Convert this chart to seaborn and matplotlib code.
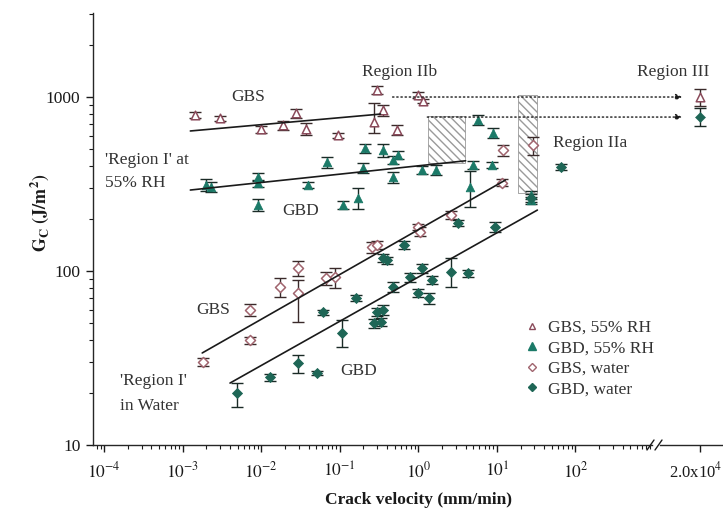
import numpy as np
import pandas as pd
import matplotlib
matplotlib.use("Agg")
import matplotlib.pyplot as plt
import seaborn as sns
from matplotlib.lines import Line2D
from matplotlib.patches import Rectangle
from matplotlib.ticker import LogLocator, NullFormatter, FixedLocator, FixedFormatter

# ---------------- data ----------------
# GBS, 55% RH
gbs_rh_v = [1.45e-3, 3.0e-3, 9.8e-3, 0.019, 0.028, 0.037, 0.095, 0.27, 0.30, 0.35, 0.54, 1.0, 1.15]
gbs_rh_g = [790, 757, 655, 690, 809, 655, 604, 718, 1097, 842, 646, 1027, 950]
gbs_rh_lo = [30, 25, 30, 40, 50, 50, 20, 100, 60, 60, 40, 40, 30]
gbs_rh_hi = [30, 25, 30, 40, 50, 50, 20, 200, 60, 60, 40, 40, 30]

# GBD, 55% RH
gbd_rh_v = [2.0e-3, 2.3e-3, 9.1e-3, 9.1e-3, 9.1e-3, 0.039, 0.069, 0.11, 0.17, 0.195, 0.21, 0.36,
            0.47, 0.48, 0.55, 1.1, 1.7, 4.6, 4.9, 5.8, 8.7, 9.0, 27, 27]
gbd_rh_g = [312, 305, 347, 320, 240, 312, 423, 240, 263, 390, 509, 495,
            347, 435, 464, 381, 380, 304, 406, 738, 406, 621, 273, 256]
gbd_rh_lo = [25, 20, 20, 15, 20, 12, 30, 12, 35, 25, 30, 40, 25, 25, 25, 20, 25, 70, 20, 50, 15, 40, 15, 12]
gbd_rh_hi = [25, 20, 20, 15, 20, 12, 30, 12, 35, 25, 30, 40, 25, 25, 25, 20, 25, 70, 20, 50, 15, 40, 15, 12]

# GBS, water
gbs_w_v = [1.8e-3, 7.2e-3, 7.2e-3, 0.0175, 0.029, 0.029, 0.066, 0.087, 0.26, 0.30, 1.0, 1.06, 2.6, 11.7, 12.0, 29.0]
gbs_w_g = [30, 40, 60, 81, 104, 75, 91, 92, 137, 141, 179, 168, 210, 321, 495, 530]
gbs_w_lo = [1.5, 2, 5, 10, 10, 24, 8, 12, 10, 8, 8, 10, 10, 15, 35, 65]
gbs_w_hi = [1.5, 2, 5, 10, 10, 14, 8, 12, 10, 8, 8, 10, 10, 15, 35, 60]

# GBD, water
gbd_w_v = [4.9e-3, 0.013, 0.029, 0.051, 0.062, 0.108, 0.16, 0.27, 0.30, 0.33, 0.35, 0.35, 0.40,
           0.48, 0.65, 0.79, 1.0, 1.1, 1.35, 1.5, 2.6, 3.2, 4.3, 9.6, 27, 65]
gbd_w_g = [19.9, 24.5, 29.5, 26, 58, 44, 70, 50, 58, 51, 60, 119, 115,
           81, 141, 92, 75, 104, 70, 89, 99, 189, 97, 179, 263, 396]
gbd_w_lo = [3.3, 1.2, 3.5, 0.8, 2, 7.5, 3, 3, 3, 3, 4, 6, 6, 5, 8, 5, 4, 6, 5, 5, 18, 8, 5, 12, 15, 15]
gbd_w_hi = [2.8, 1.2, 3.5, 0.8, 2, 8, 3, 3, 3, 3, 4, 6, 6, 5, 8, 5, 4, 6, 5, 5, 20, 8, 5, 12, 15, 15]

# Region III (plotted beyond the axis break)
reg3_v = 2.0e4
reg3_gbs_rh_g, reg3_gbs_rh_err = 1000, 110
reg3_gbd_w_g, reg3_gbd_w_err = 770, 90

# fitted lines (end points)
fit_gbs_rh_v, fit_gbs_rh_g = [1.25e-3, 0.33], [638, 798]
fit_gbd_rh_v, fit_gbd_rh_g = [1.25e-3, 4.0], [292, 430]
fit_gbs_w_v, fit_gbs_w_g = [1.77e-3, 12.8], [33.8, 333]
fit_gbd_w_v, fit_gbd_w_g = [4.0e-3, 32.8], [22.7, 224]

# hatched regions (v0, v1, g0, g1)
hatch_boxes = [(1.34, 3.97, 418, 778), (18.8, 32.8, 281, 1027)]
# dotted arrows (start v, level G)
arrow_starts = [(0.47, 1000), (1.30, 767)]

x_ticks = [1e-4, 1e-3, 1e-2, 1e-1, 1e0, 1e1, 1e2]
x_ticklabels = [r"$10^{-4}$", r"$10^{-3}$", r"$10^{-2}$", r"$10^{-1}$", r"$10^{0}$", r"$10^{1}$", r"$10^{2}$"]
y_ticks = [10, 100, 1000]
y_ticklabels = ["10", "100", "1000"]

legend_labels = ["GBS, 55% RH", "GBD, 55% RH", "GBS, water", "GBD, water"]

# ---------------- style ----------------
sns.set_theme(style="ticks")
plt.rcParams['font.family'] = ['Liberation Serif', 'DejaVu Serif']
plt.rcParams['mathtext.fontset'] = 'stix'
plt.rcParams['axes.linewidth'] = 1.0

W, H = 723, 520
def fx(x): return x / W
def fy(y): return 1 - y / H

fig = plt.figure(figsize=(W / 100, H / 100), dpi=100)
ax = fig.add_axes([fx(93), fy(445), (652 - 93) / W, (445 - 13) / H])
ax2 = fig.add_axes([fx(660), fy(445), (723 - 660) / W, (445 - 13) / H], sharey=ax)

c_gbs_rh = "#8a4a5a"
c_gbd_rh = "#1b7a68"
c_gbs_w = "#a0646e"
c_gbd_w = "#1e6656"
bar_gbs = "#3a2a2a"
bar_gbd = "#1a2a26"

series = [
    (gbs_rh_v, gbs_rh_g, gbs_rh_lo, gbs_rh_hi, "^", c_gbs_rh, False, bar_gbs),
    (gbd_rh_v, gbd_rh_g, gbd_rh_lo, gbd_rh_hi, "^", c_gbd_rh, True, bar_gbd),
    (gbs_w_v, gbs_w_g, gbs_w_lo, gbs_w_hi, "D", c_gbs_w, False, bar_gbs),
    (gbd_w_v, gbd_w_g, gbd_w_lo, gbd_w_hi, "D", c_gbd_w, True, bar_gbd),
]

for v, g, lo, hi, mk, col, filled, bc in series:
    df = pd.DataFrame({"v": v, "G": g})
    ax.errorbar(v, g, yerr=[lo, hi], fmt="none", ecolor=bc, elinewidth=1.0,
                capsize=4.5, capthick=1.0, zorder=2)
    s = 38 if mk == "^" else 26
    if filled:
        sns.scatterplot(data=df, x="v", y="G", ax=ax, marker=mk, color=col,
                        edgecolor=col, s=s, linewidth=0.6, zorder=3, legend=False)
    else:
        sns.scatterplot(data=df, x="v", y="G", ax=ax, marker=mk, facecolor="white",
                        edgecolor=col, s=s, linewidth=1.1, zorder=3, legend=False)

# fit lines
for fv, fg in [(fit_gbs_rh_v, fit_gbs_rh_g), (fit_gbd_rh_v, fit_gbd_rh_g),
               (fit_gbs_w_v, fit_gbs_w_g), (fit_gbd_w_v, fit_gbd_w_g)]:
    sns.lineplot(x=fv, y=fg, ax=ax, color="#1a1a1a", lw=1.2, zorder=4)

# hatched boxes
for v0, v1, g0, g1 in hatch_boxes:
    r = Rectangle((v0, g0), v1 - v0, g1 - g0, facecolor="white", edgecolor="#9a9a9a",
                  hatch="\\\\\\\\", lw=0.6, zorder=1)
    ax.add_patch(r)

ax.set_xscale("log")
ax.set_yscale("log")
ax.set_xlim(7.2e-5, 9.45e2)
ax.set_ylim(10, 3040)

# region III
ax2.set_xscale("log")
ax2.set_xlim(10 ** 3.79, 10 ** 4.594)
ax2.errorbar([reg3_v], [reg3_gbs_rh_g], yerr=[reg3_gbs_rh_err], fmt="none", ecolor=bar_gbs,
             elinewidth=1.0, capsize=4.5, capthick=1.0)
ax2.errorbar([reg3_v], [reg3_gbd_w_g], yerr=[reg3_gbd_w_err], fmt="none", ecolor=bar_gbd,
             elinewidth=1.0, capsize=4.5, capthick=1.0)
sns.scatterplot(x=[reg3_v], y=[reg3_gbs_rh_g], ax=ax2, marker="^", facecolor="white",
                edgecolor=c_gbs_rh, s=38, linewidth=1.1, zorder=3, legend=False)
sns.scatterplot(x=[reg3_v], y=[reg3_gbd_w_g], ax=ax2, marker="D", color=c_gbd_w,
                edgecolor=c_gbd_w, s=26, zorder=3, legend=False)

# dotted arrows
for v0, g in arrow_starts:
    ax2.annotate("", xy=(1.18e4, g), xycoords="data", xytext=(v0, g), textcoords=ax.transData,
                 arrowprops=dict(arrowstyle="-|>", linestyle=(0, (1, 2)), color="#1a1a1a",
                                 lw=1.0, mutation_scale=9, shrinkA=0, shrinkB=0))

# axes cosmetics
for a in (ax, ax2):
    a.spines["top"].set_visible(False)
    a.spines["right"].set_visible(False)
    a.set_xlabel("")
    a.set_ylabel("")
ax2.spines["left"].set_visible(False)
ax2.tick_params(axis="y", which="both", left=False, labelleft=False)

ax.xaxis.set_major_locator(FixedLocator(x_ticks))
ax.xaxis.set_major_formatter(FixedFormatter(x_ticklabels))
ax.xaxis.set_minor_locator(LogLocator(base=10, subs=np.arange(2, 10), numticks=20))
ax.xaxis.set_minor_formatter(NullFormatter())
ax.yaxis.set_major_locator(FixedLocator(y_ticks))
ax.yaxis.set_major_formatter(FixedFormatter(y_ticklabels))
ax.yaxis.set_minor_locator(LogLocator(base=10, subs=np.arange(2, 10), numticks=20))
ax.yaxis.set_minor_formatter(NullFormatter())
ax.tick_params(axis="both", which="major", direction="out", length=5, width=1.0,
               labelsize=12.5, colors="#1a1a1a", pad=4)
ax.tick_params(axis="both", which="minor", direction="out", length=3, width=0.8, colors="#1a1a1a")
ax.tick_params(axis="x", which="major", pad=7)

ax2.xaxis.set_major_locator(FixedLocator([reg3_v]))
ax2.xaxis.set_major_formatter(FixedFormatter([r"2.0x10$^{4}$"]))
ax2.xaxis.set_minor_locator(FixedLocator([]))
ax2.tick_params(axis="x", which="major", direction="out", length=5, width=1.0,
                labelsize=12, colors="#1a1a1a", pad=7)
for lbl in ax2.get_xticklabels():
    lbl.set_horizontalalignment("right")
    lbl.set_x(lbl.get_position()[0])
# shift the label so it stays inside the figure
import matplotlib.transforms as mtransforms
offset = mtransforms.ScaledTranslation(22 / 100, 0, fig.dpi_scale_trans)
for lbl in ax2.get_xticklabels():
    lbl.set_transform(lbl.get_transform() + offset)

# axis break marks
for xb in (647, 655):
    fig.add_artist(Line2D([fx(xb), fx(xb + 7)], [fy(450), fy(440)], color="#1a1a1a", lw=1.0))

# axis labels
fig.text(fx(418), fy(500), "Crack velocity (mm/min)", ha="center", va="center",
         fontsize=12.5, fontweight="bold", color="#1a1a1a")
fig.text(fx(40), fy(213), r"$\mathbf{G_{C}}$ $\mathbf{(J/m^{2})}$", ha="center", va="center",
         rotation=90, fontsize=13, color="#1a1a1a")

# annotations
tk = dict(fontsize=12.5, color="#333333")
fig.text(fx(248), fy(97), "GBS", ha="center", va="center", **tk)
fig.text(fx(105), fy(160), "'Region I' at", ha="left", va="center", **tk)
fig.text(fx(105), fy(183), "55% RH", ha="left", va="center", **tk)
fig.text(fx(301), fy(211), "GBD", ha="center", va="center", **tk)
fig.text(fx(400), fy(72), "Region IIb", ha="center", va="center", **tk)
fig.text(fx(673), fy(72), "Region III", ha="center", va="center", **tk)
fig.text(fx(553), fy(143), "Region IIa", ha="left", va="center", **tk)
fig.text(fx(213), fy(310), "GBS", ha="center", va="center", **tk)
fig.text(fx(120), fy(381), "'Region I'", ha="left", va="center", **tk)
fig.text(fx(120), fy(406), "in Water", ha="left", va="center", **tk)
fig.text(fx(359), fy(371), "GBD", ha="center", va="center", **tk)

# legend
handles = [
    Line2D([], [], ls="none", marker="^", markersize=5, markerfacecolor="white", markeredgecolor=c_gbs_rh),
    Line2D([], [], ls="none", marker="^", markersize=6, markerfacecolor=c_gbd_rh, markeredgecolor=c_gbd_rh),
    Line2D([], [], ls="none", marker="D", markersize=4.5, markerfacecolor="white", markeredgecolor=c_gbs_w),
    Line2D([], [], ls="none", marker="D", markersize=4.5, markerfacecolor=c_gbd_w, markeredgecolor=c_gbd_w),
]
fig.legend(handles, legend_labels, loc="upper left", bbox_to_anchor=(fx(515), fy(311)),
           frameon=False, fontsize=12.5, handlelength=1.0, handletextpad=0.4,
           labelspacing=0.25, borderpad=0, labelcolor="#333333")

fig.savefig("out.png", dpi=100)
